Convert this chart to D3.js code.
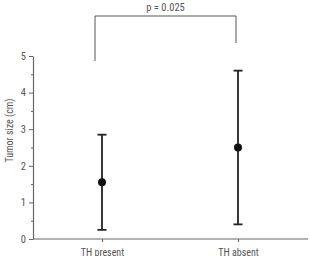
<!DOCTYPE html>
<html>
<head>
<meta charset="utf-8">
<script src="https://cdn.jsdelivr.net/npm/d3@7"></script>
<style>
  body { margin: 0; background: #fff; }
  svg { display: block; }
  text { font-family: "Liberation Sans Narrow", "Roboto Condensed", "DejaVu Sans Condensed", sans-serif; fill: #555; }
</style>
</head>
<body>
<script>
//chart values
var groups = ["TH present", "TH absent"];
var means = [1.55, 2.5];
var lows = [0.25, 0.4];
var highs = [2.85, 4.6];
var yTicks = [0, 1, 2, 3, 4, 5];
var pLabel = "p = 0.025";

(function(){
    var width = 310, height = 256;
    var left = 33, right = 308, top = 56, bottom = 239;

    var svg = d3.select("body").append("svg")
        .attr("width", width)
        .attr("height", height);

    //scales
    var x = d3.scalePoint()
        .domain(groups)
        .range([102, 238]);
    var y = d3.scaleLinear()
        .domain([0, 5])
        .range([bottom, top]);

    //minor ticks on y axis
    svg.append("g")
        .attr("transform", "translate(" + left + ",0)")
        .call(d3.axisLeft(y).tickValues(d3.range(0.5, 5, 1)).tickSize(2).tickFormat(""))
        .call(function(g){ g.select(".domain").remove(); })
        .selectAll("line").attr("stroke", "#666");

    //y axis
    var yAxis = svg.append("g")
        .attr("transform", "translate(" + left + ",0)")
        .call(d3.axisLeft(y).tickValues(yTicks).tickFormat(d3.format("d")).tickSize(4).tickPadding(3).tickSizeOuter(0));
    yAxis.select(".domain").attr("stroke", "#666").attr("stroke-width", 1.2);
    yAxis.selectAll("line").attr("stroke", "#666");
    yAxis.selectAll("text").attr("font-size", 10.5).style("fill", "#555");

    //x axis
    var xAxis = svg.append("g")
        .attr("transform", "translate(0," + bottom + ")")
        .call(d3.axisBottom(x).tickSize(3).tickPadding(7).tickSizeOuter(0));
    xAxis.select(".domain").attr("d", "M" + left + ",0H" + right).attr("stroke", "#666").attr("stroke-width", 1.2);
    xAxis.selectAll("line").attr("stroke", "#666");
    xAxis.selectAll("text").attr("font-size", 10).style("fill", "#555");

    //y axis title
    svg.append("text")
        .attr("transform", "translate(9," + ((top + bottom) / 2 - 17) + ") rotate(-90)")
        .attr("text-anchor", "middle")
        .attr("dy", "0.35em")
        .attr("font-size", 10)
        .text("Tumor size (cm)");

    //error bars
    var cap = 4.5;
    var bars = svg.selectAll(".err")
        .data(groups)
        .enter()
        .append("g")
        .attr("class", "err");
    bars.append("line")
        .attr("x1", function(d){ return x(d); })
        .attr("x2", function(d){ return x(d); })
        .attr("y1", function(d, i){ return y(lows[i]); })
        .attr("y2", function(d, i){ return y(highs[i]); })
        .attr("stroke", "#222").attr("stroke-width", 1.8);
    bars.append("line")
        .attr("x1", function(d){ return x(d) - cap; })
        .attr("x2", function(d){ return x(d) + cap; })
        .attr("y1", function(d, i){ return y(lows[i]); })
        .attr("y2", function(d, i){ return y(lows[i]); })
        .attr("stroke", "#222").attr("stroke-width", 1.8);
    bars.append("line")
        .attr("x1", function(d){ return x(d) - cap; })
        .attr("x2", function(d){ return x(d) + cap; })
        .attr("y1", function(d, i){ return y(highs[i]); })
        .attr("y2", function(d, i){ return y(highs[i]); })
        .attr("stroke", "#222").attr("stroke-width", 1.8);
    bars.append("circle")
        .attr("cx", function(d){ return x(d); })
        .attr("cy", function(d, i){ return y(means[i]); })
        .attr("r", 4)
        .attr("fill", "#111");

    //significance bracket
    svg.append("path")
        .attr("d", "M95,61V16H236V43")
        .attr("fill", "none")
        .attr("stroke", "#555")
        .attr("stroke-width", 1);
    svg.append("text")
        .attr("x", 165.5)
        .attr("y", 11)
        .attr("text-anchor", "middle")
        .attr("font-size", 10.5)
        .text(pLabel);
})();
</script>
</body>
</html>
